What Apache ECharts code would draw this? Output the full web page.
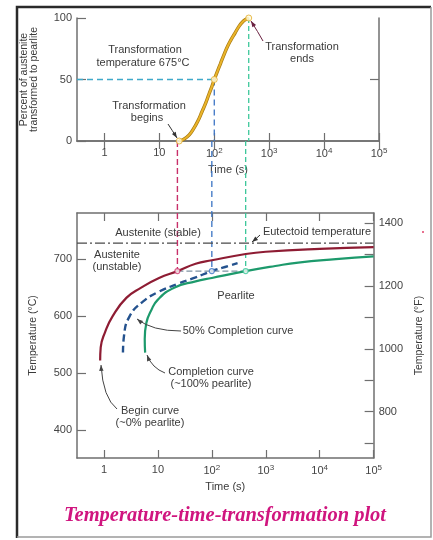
<!DOCTYPE html>
<html><head><meta charset="utf-8">
<script src="https://cdn.jsdelivr.net/npm/echarts@6/dist/echarts.min.js"></script>
<style>html,body{margin:0;padding:0;background:#fff}#c{width:433px;height:540px}</style>
</head><body><div id="c"></div>
<script>
// ---------- data ----------
const timeTicks = [1, 10, 100, 1000, 10000, 100000];
const timeTickLabels = ['1', '10', '10²', '10³', '10⁴', '10⁵'];
const pctTicks = [0, 50, 100];
const tempTicksC = [400, 500, 600, 700];
const tempTicksF = [700, 800, 900, 1000, 1100, 1200, 1300, 1400];
const tempLabelsF = [800, 1000, 1200, 1400];

// top plot: percent transformed at 675 °C
const transformCurve = [[23,0],[28,1.5],[35,5],[42,10],[50,16],[60,24],[70,31],[80,38],[90,44],[100,50],
  [115,57],[130,63],[150,70],[175,77],[200,82],[240,88],[280,93],[330,97],[380,99],[424,100]];
const keyTimes = [23, 100, 424];      // begins, 50 %, ends
const keyPcts = [0, 50, 100];

const isothermC = 679;
const eutectoidC = 728;

// bottom plot: TTT curves [time s, temperature °C]
const beginCurve = [[0.85,522],[0.87,545],[1.05,572],[1.45,600],[2.6,632],[4.9,650],[10.5,667],[23,679],
  [50,692],[100,698],[424,709],[1000,713],[10000,718],[100000,721]];
const halfCurve = [[2.25,536],[2.35,565],[3.0,600],[5.2,625],[10.5,643],[24,657],[50,668],[100,679],[200,688],[300,693]];
const endCurve = [[5.8,536],[5.7,560],[6.1,588],[7.5,610],[10,629],[20,650],[50,661],[100,667],[424,679],
  [1500,688],[4000,694],[20000,700],[100000,705]];

// ---------- layout ----------
const xMin = Math.pow(10, -0.5), xMax = 1e5;
const gL = 77, gR = 54;
const topGrid = {top: 18, height: 123};
const botGrid = {top: 213, height: 245};
const cMin = 351, cMax = 781;
const fMin = 652.5, fMax = 1433;
const gapC = cMax + (botGrid.top - (topGrid.top + topGrid.height)) * (cMax - cMin) / botGrid.height;

const FONT = '"Liberation Sans", Arial, sans-serif';
const AX = '#6f6f6f';
const TXT = '#3a3a3a';
const SUP = {'²': '2', '³': '3', '⁴': '4', '⁵': '5'};

function xAxis(grid, pos, labels, name) {
  return {
    type: 'log', logBase: 10, gridIndex: grid, position: pos, min: xMin, max: xMax,
    name: name || '', nameLocation: 'middle', nameGap: 23,
    nameTextStyle: {fontFamily: FONT, fontSize: 11, color: TXT},
    axisLine: {show: true, lineStyle: {color: AX, width: 1.5}},
    axisTick: {show: true, inside: true, length: 8, customValues: timeTicks, lineStyle: {color: AX, width: 1.2}},
    axisLabel: {show: labels, customValues: timeTicks, margin: 6, fontFamily: FONT, fontSize: 11, color: '#444',
      rich: {s: {fontFamily: FONT, fontSize: 8, color: '#444', verticalAlign: 'top', padding: [0, 0, 5, 0]}},
      formatter: v => timeTickLabels[Math.round(Math.log10(v))].replace(/[²³⁴⁵]/g, c => '{s|' + SUP[c] + '}')},
    splitLine: {show: false}, minorTick: {show: false}
  };
}
function yAxis(grid, pos, min, max, ticks, labels, name, gap) {
  return {
    type: 'value', gridIndex: grid, position: pos, min: min, max: max,
    name: name || '', nameLocation: 'middle', nameGap: gap || 0,
    nameTextStyle: {fontFamily: FONT, fontSize: 10.5, color: TXT, lineHeight: 10},
    axisLine: {show: true, lineStyle: {color: AX, width: 1.5}},
    axisTick: {show: ticks.length > 0, inside: true, length: 9, customValues: ticks, lineStyle: {color: AX, width: 1.2}},
    axisLabel: {show: labels.length > 0, customValues: labels, margin: 5, fontFamily: FONT, fontSize: 11, color: '#444',
      formatter: v => String(v)},
    splitLine: {show: false}
  };
}

const seg = (a, b) => [a, b];

function dashed(xi, yi, data, color, type, width, clip) {
  return {type: 'line', xAxisIndex: xi, yAxisIndex: yi, data: data, symbol: 'none', silent: true,
    clip: clip !== false,
    lineStyle: {color: color, width: width || 1.3, type: type}, z: 3};
}

function arrowHead(tx, ty, fx, fy, color) {
  const dx = tx - fx, dy = ty - fy, l = Math.hypot(dx, dy), ux = dx / l, uy = dy / l;
  const bx = tx - ux * 6, by = ty - uy * 6;
  return {type: 'polygon', z: 20, shape: {points: [[tx, ty], [bx - uy * 2.2, by + ux * 2.2], [bx + uy * 2.2, by - ux * 2.2]]},
    style: {fill: color}};
}
function leader(x1, y1, cx, cy, x2, y2, color) {
  return [
    {type: 'bezierCurve', z: 20, shape: {x1: x1, y1: y1, cpx1: cx, cpy1: cy, x2: x2, y2: y2},
      style: {stroke: color, lineWidth: 1, fill: null}},
    arrowHead(x2, y2, cx, cy, color)
  ];
}
function label(text, x, y, size) {
  return {type: 'text', z: 20, style: {text: text, x: x, y: y, font: (size || 11) + 'px ' + FONT, fill: TXT,
    align: 'center', verticalAlign: 'middle', textAlign: 'center', textVerticalAlign: 'middle'}};
}

const chart = echarts.init(document.getElementById('c'), null, {renderer: 'canvas'});
chart.setOption({
  animation: false,
  backgroundColor: '#fff',
  grid: [
    {left: gL, right: gR, top: topGrid.top, height: topGrid.height, show: false},
    {left: gL, right: gR, top: botGrid.top, height: botGrid.height, show: false}
  ],
  xAxis: [
    xAxis(0, 'bottom', true, 'Time (s)'),
    xAxis(0, 'top', false),
    xAxis(1, 'bottom', true, 'Time (s)'),
    xAxis(1, 'top', false)
  ],
  yAxis: [
    yAxis(0, 'left', 0, 100, pctTicks, pctTicks, 'Percent of austenite\ntransformed to pearlite', 38),
    yAxis(0, 'right', 0, 100, [50], []),
    yAxis(1, 'left', cMin, cMax, tempTicksC, tempTicksC, 'Temperature (°C)', 39),
    yAxis(1, 'right', fMin, fMax, tempTicksF, tempLabelsF, 'Temperature (°F)', 35)
  ],
  series: [
    // top: guide lines
    dashed(0, 0, seg([xMin, 50], [keyTimes[1], 50]), '#3fa9c9', [6, 4]),
    dashed(0, 0, seg([keyTimes[1], keyPcts[1]], [keyTimes[1], 0]), '#3b74c4', [6, 4]),
    dashed(0, 0, seg([keyTimes[2], keyPcts[2]], [keyTimes[2], 0]), '#3cc79a', [5, 3]),
    // top: transformation curve
    {type: 'line', xAxisIndex: 0, yAxisIndex: 0, data: transformCurve, smooth: true, symbol: 'none', z: 4,
      lineStyle: {color: '#a87a12', width: 3.4}},
    {type: 'line', xAxisIndex: 0, yAxisIndex: 0, data: transformCurve, smooth: true, symbol: 'none', z: 5,
      lineStyle: {color: '#eab42a', width: 2}},
    {type: 'scatter', xAxisIndex: 0, yAxisIndex: 0, z: 6,
      data: keyTimes.map((t, i) => [t, keyPcts[i]]), symbol: 'circle', symbolSize: 6,
      itemStyle: {color: '#fffbe0', borderColor: '#e2ad2a', borderWidth: 1}},
    // bottom: connectors from top plot
    dashed(2, 2, seg([keyTimes[0], gapC], [keyTimes[0], isothermC]), '#c8306a', [6, 3], 1.4, false),
    dashed(2, 2, seg([keyTimes[1], gapC], [keyTimes[1], isothermC]), '#3b74c4', [6, 4], 1.3, false),
    dashed(2, 2, seg([keyTimes[2], gapC], [keyTimes[2], isothermC]), '#3cc79a', [5, 3], 1.3, false),
    dashed(2, 2, seg([keyTimes[0], isothermC], [keyTimes[2], isothermC]), '#7f93a3', [6, 3], 1.2),
    // eutectoid
    dashed(2, 2, seg([xMin, eutectoidC], [xMax, eutectoidC]), '#4a4a4a', [10, 3, 2, 3], 1.3),
    // TTT curves
    {type: 'line', xAxisIndex: 2, yAxisIndex: 2, data: beginCurve, smooth: true, symbol: 'none', z: 5,
      lineStyle: {color: '#8e1c33', width: 2.2}},
    {type: 'line', xAxisIndex: 2, yAxisIndex: 2, data: halfCurve, smooth: true, symbol: 'none', z: 5,
      lineStyle: {color: '#24528e', width: 2.4, type: [7, 4]}},
    {type: 'line', xAxisIndex: 2, yAxisIndex: 2, data: endCurve, smooth: true, symbol: 'none', z: 5,
      lineStyle: {color: '#1d9a6c', width: 2.2}},
    {type: 'scatter', xAxisIndex: 2, yAxisIndex: 2, z: 6, symbol: 'circle', symbolSize: 5,
      data: [
        {value: [keyTimes[0], isothermC], itemStyle: {borderColor: '#d03a70'}},
        {value: [keyTimes[1], isothermC], itemStyle: {borderColor: '#3b74c4'}},
        {value: [keyTimes[2], isothermC], itemStyle: {borderColor: '#3cc79a'}}
      ],
      itemStyle: {color: '#ffffff', borderWidth: 1.2}}
  ],
  graphic: [
    // frame
    {type: 'polyline', z: 30, shape: {points: [[17, 538], [17, 7], [431, 7]]}, style: {stroke: '#2a2a2a', lineWidth: 2.5, fill: null}},
    {type: 'polyline', z: 30, shape: {points: [[431, 7], [431, 537], [17, 537]]}, style: {stroke: '#9a9a9a', lineWidth: 1.5, fill: null}},
    {type: 'circle', z: 30, shape: {cx: 423, cy: 232, r: 1}, style: {fill: '#e0406a'}},
    // top annotations
    label('Transformation', 145, 50),
    label('temperature 675°C', 143, 63),
    label('Transformation', 149, 106),
    label('begins', 147, 118),
    label('Transformation', 302, 47),
    label('ends', 302, 59),
    ...leader(168, 124, 172, 130, 177, 138, '#333'),
    ...leader(263, 41, 258, 32, 251, 21, '#6a2040'),
    // bottom annotations
    label('Austenite (stable)', 158, 233),
    label('Eutectoid temperature', 317, 232),
    ...leader(260, 235, 257, 238, 252, 242, '#333'),
    label('Austenite', 117, 255),
    label('(unstable)', 117, 267),
    label('Pearlite', 236, 296),
    label('50% Completion curve', 238, 331),
    ...leader(181, 331, 152, 331, 137, 319, '#444'),
    label('Completion curve', 211, 372),
    label('(~100% pearlite)', 211, 384),
    ...leader(165, 373, 152, 368, 147, 355, '#444'),
    label('Begin curve', 150, 411),
    label('(~0% pearlite)', 150, 423),
    ...leader(117, 409, 103, 398, 101, 365, '#444'),
    // title
    {type: 'text', z: 20, style: {text: 'Temperature-time-transformation plot', x: 225, y: 516,
      font: 'italic bold 20.5px "Liberation Serif", "DejaVu Serif", serif', fill: '#d0157f',
      align: 'center', verticalAlign: 'middle', textAlign: 'center', textVerticalAlign: 'middle'}}
  ]
});
</script></body></html>
